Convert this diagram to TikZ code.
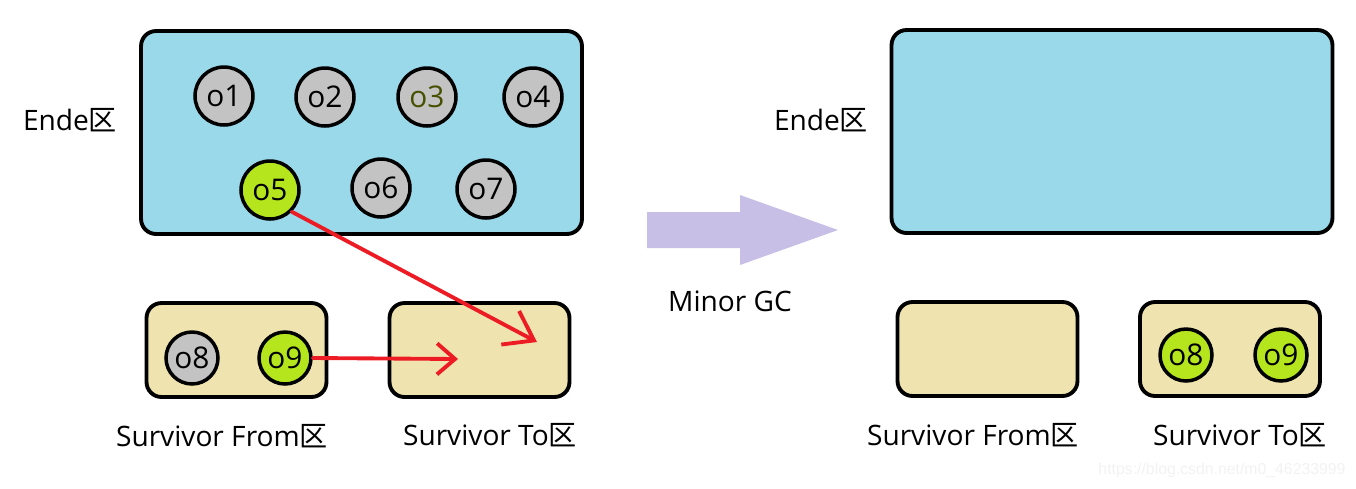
\documentclass[tikz,border=0pt]{standalone}
\usepackage{fontspec}
\setmainfont{Open Sans}
\newfontfamily\cjk{Noto Sans CJK SC}
\newfontfamily\wmfont{Liberation Sans}
\usetikzlibrary{arrows.meta,positioning}
\definecolor{edenblue}{RGB}{153,217,234}
\definecolor{survtan}{RGB}{239,228,176}
\definecolor{objgray}{RGB}{195,195,195}
\definecolor{objgreen}{RGB}{181,230,29}
\definecolor{gcred}{RGB}{237,28,36}
\definecolor{gcpurple}{RGB}{200,191,231}
\definecolor{oliveink}{RGB}{70,80,0}
\newcommand{\qu}{{\cjk 区}}

\begin{document}
\begin{tikzpicture}[x=0.02cm, y=-0.02cm,
        font=\fontsize{16}{18}\selectfont,
        eden/.style={draw, line width=2.2pt, rounded corners=0.3cm, fill=edenblue,
            minimum width=8.82cm, minimum height=4.06cm},
        surv/.style={draw, line width=2.2pt, rounded corners=0.3cm, fill=survtan,
            minimum width=3.6cm, minimum height=1.88cm},
        obj/.style={circle, draw, line width=2pt, fill=objgray, inner sep=0pt,
            minimum size=1.16cm, font=\fontsize{17}{19}\selectfont},
        live/.style={obj, fill=objgreen},
        sobj/.style={obj, minimum size=1.04cm},
        slive/.style={live, minimum size=1.04cm},
        move/.style={-{Straight Barb[length=5.4mm, width=7.6mm]}, gcred,
            line width=2.2pt, line cap=round}]
    \useasboundingbox (0,0) rectangle (1356,488);
    % before the collection
    \node[eden] (edenA) at (361.5,132.5) {};
    \node (edenAlbl) at (70,120) {Ende\qu};
    \node[obj] (o1) at (224,96) {o1};
    \node[obj] (o2) at (325,97) {o2};
    \node[obj, text=oliveink] (o3) at (427,97) {o3};
    \node[obj] (o4) at (533,97) {o4};
    \node[live] (o5) at (270,190) {o5};
    \node[obj] (o6) at (381,188) {o6};
    \node[obj] (o7) at (486,189) {o7};
    \node[surv] (fromA) at (236.5,350) {};
    \node[surv] (toA) at (479.5,350) {};
    \node[sobj] (o8) at (192,358) {o8};
    \node[slive] (o9) at (285,358) {o9};
    \node (fromAlbl) at (222,436) {Survivor From\qu};
    \node (toAlbl) at (490,435) {Survivor To\qu};
    \coordinate (tipA) at (537,342);
    \coordinate (tipB) at (458,359);
    \draw[move] (o5.south east) -- (tipA);
    \draw[move, -{Straight Barb[length=3.6mm, width=6.2mm]}] (o9.east) -- (tipB);
    % the collection
    \fill[gcpurple] (647,212) -- (740,212) -- (740,195) -- (838,230)
        -- (740,265) -- (740,248) -- (647,248) -- cycle;
    \node (gc) at (730,301) {Minor GC};
    % after the collection
    \node[eden] (edenB) at (1112,131.5) {};
    \node (edenBlbl) at (821,120) {Ende\qu};
    \node[surv] (fromB) at (987.5,349) {};
    \node[surv] (toB) at (1230,349) {};
    \node[slive] (o8b) at (1186,355) {o8};
    \node[slive] (o9b) at (1281,355) {o9};
    \node (fromBlbl) at (973,435) {Survivor From\qu};
    \node (toBlbl) at (1240,435) {Survivor To\qu};
    \node[font=\wmfont\fontsize{9}{10}\selectfont, text=black!5] (mark) at (1222,470)
        {https://blog.csdn.net/m0\_46233999};
\end{tikzpicture}
\end{document}
